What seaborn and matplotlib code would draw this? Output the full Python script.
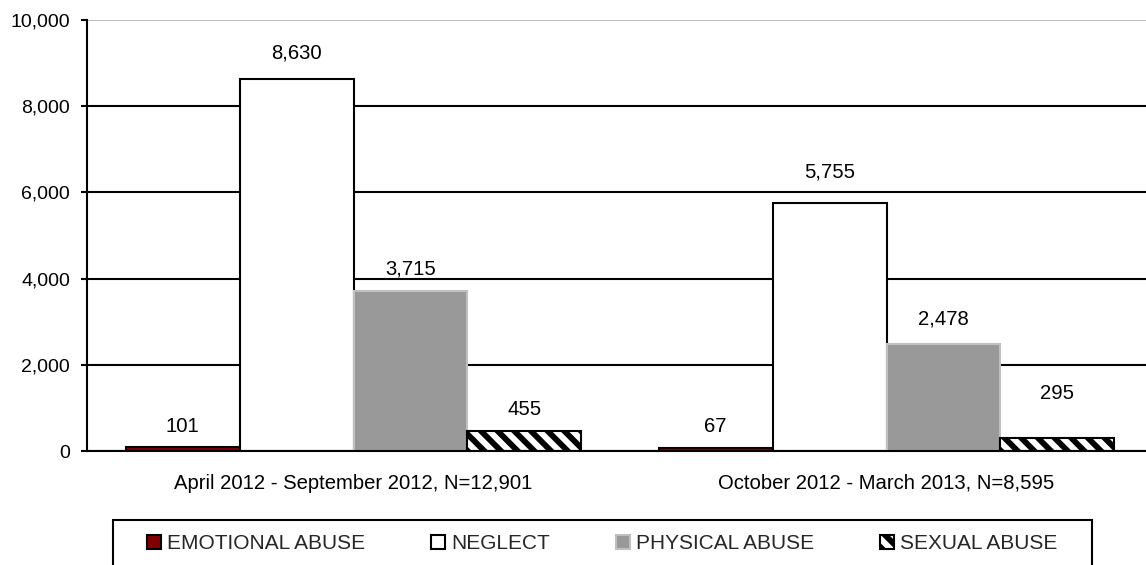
import numpy as np
import pandas as pd
import matplotlib
matplotlib.use("Agg")
import matplotlib.pyplot as plt
from matplotlib.patches import Rectangle
from matplotlib.ticker import FuncFormatter, FixedLocator
import seaborn as sns

periods = ["April 2012 - September 2012, N=12,901", "October 2012 - March 2013, N=8,595"]
types = ["EMOTIONAL ABUSE", "NEGLECT", "PHYSICAL ABUSE", "SEXUAL ABUSE"]
emotional = [101, 67]
neglect = [8630, 5755]
physical = [3715, 2478]
sexual = [455, 295]
y_ticks = [0, 2000, 4000, 6000, 8000, 10000]

face_colors = ["#800000", "#ffffff", "#999999", "#ffffff"]
edge_colors = ["#000000", "#000000", "#c0c0c0", "#000000"]
hatches = [None, None, None, "\\\\"]
# label offsets above bar tops (points), per series, per period
label_pad = [[8.0, 8.8], [11.7, 15.3], [9.1, 11.3], [9.1, 25.7]]

sns.set_theme(style="white")
plt.rcParams["font.family"] = ["Liberation Sans", "DejaVu Sans"]
plt.rcParams["hatch.linewidth"] = 4.2
plt.rcParams["hatch.color"] = "black"

df = pd.DataFrame({
    "period": periods * 4,
    "type": np.repeat(types, len(periods)),
    "count": emotional + neglect + physical + sexual,
})

fig = plt.figure(figsize=(11.46, 5.65), dpi=100)
ax = fig.add_axes([87 / 1146, 1 - 451 / 565, (1153 - 87) / 1146, (451 - 20) / 565])

sns.barplot(data=df, x="period", y="count", hue="type", order=periods,
            hue_order=types, palette=face_colors, width=0.855, saturation=1,
            errorbar=None, legend=False, ax=ax)

for i, cont in enumerate(ax.containers):
    for j, p in enumerate(cont.patches):
        p.set_facecolor(face_colors[i])
        p.set_edgecolor(edge_colors[i])
        p.set_linewidth(1.5)
        p.set_zorder(3)
        if hatches[i]:
            p.set_hatch(hatches[i])
        ax.annotate(f"{int(cont.datavalues[j]):,}",
                    xy=(p.get_x() + p.get_width() / 2, p.get_height()),
                    xytext=(0, label_pad[i][j]), textcoords="offset points",
                    ha="center", va="bottom", fontsize=14.6, color="black")

ax.set_xlim(-0.5, 1.5)
ax.set_ylim(0, 10000)
ax.set_yticks(y_ticks)
ax.yaxis.set_major_formatter(FuncFormatter(lambda v, _: f"{int(v):,}"))
ax.set_xlabel("")
ax.set_ylabel("")

ax.xaxis.set_minor_locator(FixedLocator([-0.5, 0.5, 1.5]))
ax.tick_params(axis="x", which="major", length=0, pad=16.5, labelsize=14.6, colors="black")
ax.tick_params(axis="x", which="minor", length=4.3, width=1.5, direction="out", color="black")
ax.tick_params(axis="y", which="major", length=4.3, width=1.5, direction="out",
               pad=8, labelsize=14, colors="black", left=True)

ax.grid(axis="y", color="black", linewidth=1.5)
ax.set_axisbelow(True)
ax.yaxis.get_gridlines()[-1].set_color("#bfbfbf")

for s in ["top", "right"]:
    ax.spines[s].set_visible(False)
for s in ["left", "bottom"]:
    ax.spines[s].set_color("black")
    ax.spines[s].set_linewidth(1.5)
    ax.spines[s].set_zorder(4)

fig.legend(ax.containers, types, loc="center left",
           bbox_to_anchor=(147 / 1146, 1 - 543.5 / 565), ncol=4, frameon=False,
           fontsize=15, handlelength=0.67, handleheight=0.67, handletextpad=0.29,
           columnspacing=3.17, borderpad=0, borderaxespad=0)
fig.add_artist(Rectangle((113 / 1146, -0.1), (1092 - 113) / 1146, 0.1 + 1 - 520 / 565,
                         transform=fig.transFigure, fill=False, edgecolor="black",
                         linewidth=1.5))

fig.savefig("out.png", dpi=100)
